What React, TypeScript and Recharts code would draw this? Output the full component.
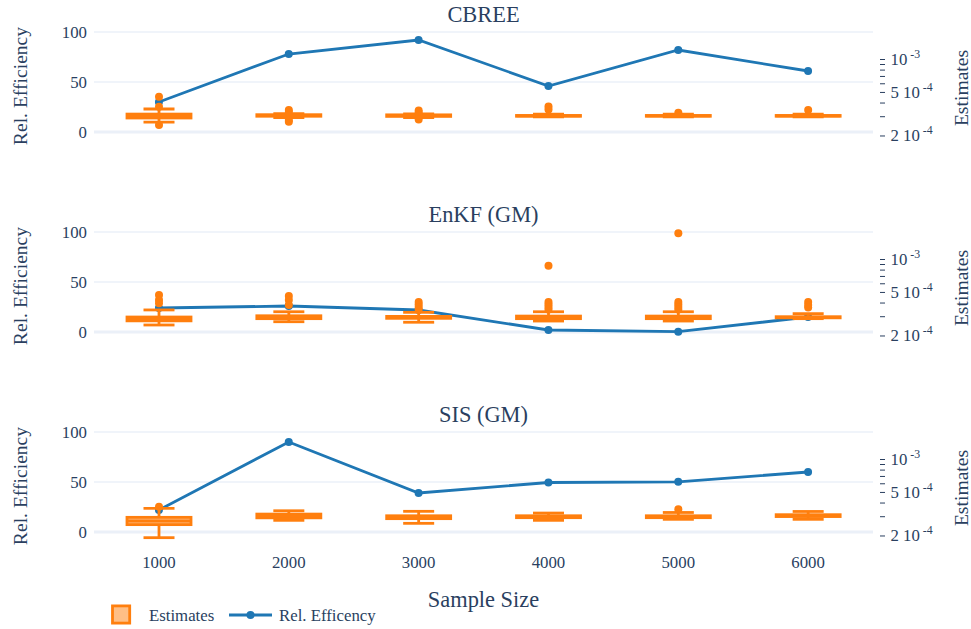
import React from 'react';
import { ComposedChart, Line, Bar, XAxis, YAxis, ReferenceLine } from 'recharts';

// ---------- data ----------
const sampleSizes = ['1000', '2000', '3000', '4000', '5000', '6000'];
const panelTitles = ['CBREE', 'EnKF (GM)', 'SIS (GM)'];

// Rel. Efficiency (left axis)
const cbreeEfficiency = [30, 78, 92, 46, 82, 61];
const enkfEfficiency = [24, 26, 22, 2, 0.3, 15];
const sisEfficiency = [22, 90, 39, 49.5, 50.2, 60];

// Estimates box stats (right, log axis): [lowerWhisker, q1, median, q3, upperWhisker]
const cbreeBoxes = [
  [2.68e-4, 2.92e-4, 3.04e-4, 3.17e-4, 3.53e-4],
  [2.94e-4, 3.03e-4, 3.07e-4, 3.13e-4, 3.2e-4],
  [2.95e-4, 3.02e-4, 3.07e-4, 3.12e-4, 3.19e-4],
  [2.99e-4, 3.03e-4, 3.05e-4, 3.08e-4, 3.17e-4],
  [2.99e-4, 3.03e-4, 3.05e-4, 3.08e-4, 3.17e-4],
  [2.99e-4, 3.03e-4, 3.05e-4, 3.08e-4, 3.17e-4],
];
const cbreeOutliers = [
  [4.57e-4, 3.7e-4, 2.52e-4],
  [3.46e-4, 3.31e-4, 2.8e-4, 2.7e-4],
  [3.42e-4, 3.28e-4, 2.83e-4],
  [3.72e-4, 3.49e-4],
  [3.26e-4],
  [3.46e-4],
];

const enkfBoxes = [
  [2.52e-4, 2.75e-4, 2.86e-4, 2.98e-4, 3.46e-4],
  [2.7e-4, 2.88e-4, 2.98e-4, 3.06e-4, 3.33e-4],
  [2.67e-4, 2.9e-4, 2.96e-4, 3.02e-4, 3.29e-4],
  [2.74e-4, 2.88e-4, 2.96e-4, 3.04e-4, 3.33e-4],
  [2.74e-4, 2.88e-4, 2.96e-4, 3.04e-4, 3.33e-4],
  [2.88e-4, 2.93e-4, 2.96e-4, 3.0e-4, 3.2e-4],
];
const enkfOutliers = [
  [4.74e-4, 4.26e-4, 3.98e-4],
  [4.64e-4, 4.26e-4, 3.84e-4],
  [4.09e-4, 3.88e-4, 3.68e-4, 3.49e-4],
  [8.78e-4, 4.09e-4, 3.88e-4, 3.68e-4, 3.49e-4],
  [1.74e-3, 4.09e-4, 3.88e-4, 3.68e-4, 3.49e-4],
  [4.09e-4, 3.84e-4, 3.64e-4],
];

const sisBoxes = [
  [1.93e-4, 2.54e-4, 2.74e-4, 2.96e-4, 3.58e-4],
  [2.78e-4, 2.93e-4, 3.04e-4, 3.17e-4, 3.4e-4],
  [2.61e-4, 2.88e-4, 2.98e-4, 3.06e-4, 3.36e-4],
  [2.78e-4, 2.94e-4, 3.0e-4, 3.06e-4, 3.24e-4],
  [2.84e-4, 2.94e-4, 3.0e-4, 3.06e-4, 3.28e-4],
  [2.84e-4, 3.01e-4, 3.07e-4, 3.13e-4, 3.35e-4],
];
const sisOutliers = [[3.7e-4], [], [], [], [3.51e-4], []];

const effTicks = [0, 50, 100];
const estTicks = [2e-4, 3e-4, 4e-4, 5e-4, 6e-4, 7e-4, 8e-4, 9e-4, 1e-3];
const estLabels: Record<string, [string, string]> = {
  '0.0002': ['2 10', ' -4'],
  '0.0005': ['5 10', ' -4'],
  '0.001': ['10', ' -3'],
};

// ---------- style ----------
const FONT = '"Liberation Serif", "Times New Roman", serif';
const TEXT = '#2a3f5f';
const ORANGE = '#ff7f0e';
const ORANGE_FILL = 'rgba(255,127,14,0.5)';
const BLUE = '#1f77b4';
const GRID = '#ebf0f8';
const W = 971;

const panels = [
  { title: panelTitles[0], eff: cbreeEfficiency, boxes: cbreeBoxes, outs: cbreeOutliers },
  { title: panelTitles[1], eff: enkfEfficiency, boxes: enkfBoxes, outs: enkfOutliers },
  { title: panelTitles[2], eff: sisEfficiency, boxes: sisBoxes, outs: sisOutliers },
];

const BoxShape = (props: any) => {
  const { x, y, width, height, payload } = props;
  if (!payload || !payload.box) return <g />;
  const b: number[] = payload.box;
  const outs: number[] = payload.out || [];
  const top = Math.min(y, y + height);
  const bot = Math.max(y, y + height);
  const lhi = Math.log10(b[4]);
  const llo = Math.log10(b[0]);
  const py = (v: number) => top + ((bot - top) * (lhi - Math.log10(v))) / (lhi - llo);
  const cx = x + width / 2;
  const hw = width / 2;
  const cw = 15.5;
  const sw = 2.8;
  return (
    <g>
      <line x1={cx} x2={cx} y1={py(b[4])} y2={py(b[0])} stroke={ORANGE} strokeWidth={sw} />
      <line x1={cx - cw} x2={cx + cw} y1={py(b[4])} y2={py(b[4])} stroke={ORANGE} strokeWidth={sw} />
      <line x1={cx - cw} x2={cx + cw} y1={py(b[0])} y2={py(b[0])} stroke={ORANGE} strokeWidth={sw} />
      <rect
        x={cx - hw}
        y={py(b[3])}
        width={width}
        height={Math.max(0, py(b[1]) - py(b[3]))}
        fill="#fff"
        stroke="none"
      />
      <rect
        x={cx - hw}
        y={py(b[3])}
        width={width}
        height={Math.max(0, py(b[1]) - py(b[3]))}
        fill={ORANGE_FILL}
        stroke={ORANGE}
        strokeWidth={sw}
      />
      <line x1={cx - hw} x2={cx + hw} y1={py(b[2])} y2={py(b[2])} stroke={ORANGE} strokeWidth={sw} />
      {outs.map((o, i) => (
        <circle key={i} cx={cx} cy={py(o)} r={4} fill={ORANGE} />
      ))}
    </g>
  );
};

const EstTick = (props: any) => {
  const { x, y, payload } = props;
  const key = String(payload.value);
  const lab = estLabels[key];
  return (
    <g>
      <line x1={x + 7} x2={x + 12} y1={y} y2={y} stroke={TEXT} strokeWidth={1} />
      {lab ? (
        <text x={x + 17.5} y={y + 5.5} fill={TEXT} fontSize={16.8} fontFamily={FONT}>
          {lab[0]}
          <tspan fontSize={11.8} dy={-7}>
            {lab[1]}
          </tspan>
        </text>
      ) : null}
    </g>
  );
};

const Panel = ({ idx }: { idx: number }) => {
  const p = panels[idx];
  const isLast = idx === 2;
  const data = sampleSizes.map((s, i) => ({
    size: s,
    eff: p.eff[i],
    box: p.boxes[i],
    out: p.outs[i],
  }));
  const height = isLast ? 229 : 200;
  const extra: any = { zIndex: 700 };
  return (
    <div style={{ position: 'absolute', left: 0, top: idx * 200 }}>
      <ComposedChart
        width={W}
        height={height}
        data={data}
        margin={{ top: 24, right: 0, left: 0, bottom: isLast ? 51 : 52 }}
        barGap={0}
      >
        <XAxis
          dataKey="size"
          type="category"
          hide={!isLast}
          height={isLast ? 30 : 0}
          axisLine={false}
          tickLine={false}
          tickSize={0}
          tickMargin={7.6}
          interval={0}
          tick={{ fill: TEXT, fontSize: 16.8, fontFamily: FONT }}
        />
        <YAxis
          yAxisId="left"
          orientation="left"
          width={94}
          domain={[-16, 108]}
          ticks={effTicks}
          interval={0}
          allowDataOverflow
          axisLine={false}
          tickLine={false}
          tickSize={0}
          tickMargin={7}
          tick={{ fill: TEXT, fontSize: 16.8, fontFamily: FONT }}
        />
        <YAxis
          yAxisId="right"
          orientation="right"
          width={98}
          scale="log"
          domain={[1.553e-4, 2.111e-3]}
          ticks={estTicks}
          interval={0}
          allowDataOverflow
          axisLine={false}
          tickLine={false}
          tickSize={0}
          tickMargin={0}
          tick={<EstTick />}
        />
        <ReferenceLine yAxisId="left" y={100} stroke={GRID} strokeWidth={1.4} />
        <ReferenceLine yAxisId="left" y={50} stroke={GRID} strokeWidth={1.4} />
        <ReferenceLine yAxisId="left" y={0} stroke={GRID} strokeWidth={2.8} />
        <Line
          yAxisId="left"
          type="linear"
          dataKey="eff"
          stroke={BLUE}
          strokeWidth={2.8}
          dot={{ r: 4, fill: BLUE, stroke: BLUE, strokeWidth: 0 }}
          activeDot={false}
          isAnimationActive={false}
        />
        <Bar
          yAxisId="right"
          dataKey={(d: any) => [d.box[0], d.box[4]]}
          barSize={64}
          shape={<BoxShape />}
          isAnimationActive={false}
          {...extra}
        />
      </ComposedChart>
    </div>
  );
};

export default function App() {
  return (
    <div
      style={{
        position: 'absolute',
        left: 0,
        top: 0,
        width: W,
        height: 629,
        background: '#fff',
        overflow: 'hidden',
        fontFamily: FONT,
      }}
    >
      <Panel idx={0} />
      <Panel idx={1} />
      <Panel idx={2} />
      <svg
        width={W}
        height={629}
        style={{ position: 'absolute', left: 0, top: 0, pointerEvents: 'none' }}
      >
        {panels.map((p, i) => (
          <g key={i}>
            <text x={483.5} y={21.5 + i * 200} textAnchor="middle" fill={TEXT} fontSize={22.4} fontFamily={FONT}>
              {p.title}
            </text>
            <text
              transform={`translate(27,${86 + i * 200}) rotate(-90)`}
              textAnchor="middle"
              fill={TEXT}
              fontSize={19.6}
              fontFamily={FONT}
            >
              Rel. Efficiency
            </text>
            <text
              transform={`translate(968,${88 + i * 200}) rotate(-90)`}
              textAnchor="middle"
              fill={TEXT}
              fontSize={19.6}
              fontFamily={FONT}
            >
              Estimates
            </text>
          </g>
        ))}
        <text x={483.5} y={607} textAnchor="middle" fill={TEXT} fontSize={22.4} fontFamily={FONT}>
          Sample Size
        </text>
        <rect x={112.5} y={605.9} width={17.2} height={17.2} fill={ORANGE_FILL} stroke={ORANGE} strokeWidth={2.8} />
        <text x={149} y={620.5} fill={TEXT} fontSize={16.8} fontFamily={FONT}>
          Estimates
        </text>
        <line x1={229} x2={272} y1={615} y2={615} stroke={BLUE} strokeWidth={2.8} />
        <circle cx={250.5} cy={615} r={4} fill={BLUE} />
        <text x={279} y={620.5} fill={TEXT} fontSize={16.8} fontFamily={FONT}>
          Rel. Efficency
        </text>
      </svg>
    </div>
  );
}
